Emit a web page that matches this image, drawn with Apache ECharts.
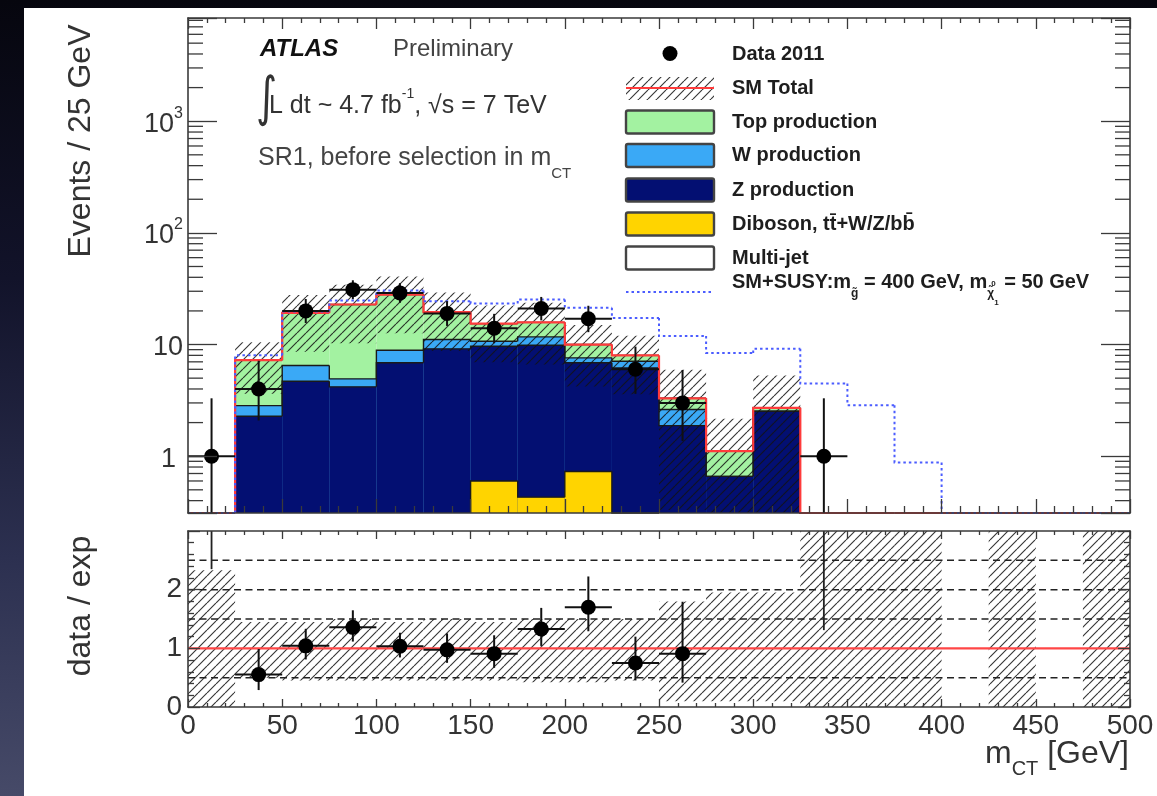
<!DOCTYPE html>
<html>
<head>
<meta charset="utf-8">
<title>m_CT distribution, SR1</title>
<script src="https://cdn.jsdelivr.net/npm/echarts@6.0.0/dist/echarts.min.js"></script>
<style>
  html, body { margin:0; padding:0; width:1157px; height:796px; overflow:hidden;
    background: linear-gradient(to bottom, #06060e 0%, #12132a 35%, #2c3050 70%, #464a68 100%); }
  #panel { position:absolute; left:24px; top:8px; width:1133px; height:788px; background:#fff; }
  #chart { position:absolute; left:0; top:0; width:1157px; height:796px; }
</style>
</head>
<body>
<div id="panel"></div>
<div id="chart"></div>
<script>
const FONT = '"Liberation Sans", Arial, Helvetica, sans-serif';

// Binning: 20 bins of 25 GeV in m_CT
const binLow = [0, 25, 50, 75, 100, 125, 150, 175, 200, 225, 250, 275, 300, 325, 350, 375, 400, 425, 450, 475];
const BIN_WIDTH = 25;

// Expected events per bin, per background (stacked bottom to top)
const multiJet      = [0, 0, 0, 0, 0, 0, 0, 0, 0, 0, 0, 0, 0, 0, 0, 0, 0, 0, 0, 0];
const diboson       = [0, 0, 0, 0, 0, 0, 0.60, 0.43, 0.73, 0, 0, 0, 0, 0, 0, 0, 0, 0, 0, 0];
const zProduction   = [0, 2.28, 4.69, 4.18, 6.86, 9.15, 9.06, 9.43, 6.13, 6.18, 1.88, 0.66, 2.53, 0, 0, 0, 0, 0, 0, 0];
const wProduction   = [0, 0.56, 1.80, 0.75, 2.04, 1.95, 1.04, 1.84, 0.74, 0.91, 0.74, 0, 0, 0, 0, 0, 0, 0, 0, 0];
const topProduction = [0, 4.40, 12.7, 17.9, 19.1, 8.40, 4.70, 4.10, 2.40, 0.90, 0.68, 0.45, 0.18, 0, 0, 0, 0, 0, 0, 0];

// SM + SUSY signal (m_gluino = 400 GeV, m_neutralino = 50 GeV)
const smPlusSusy = [0, 8.0, 19.8, 24.8, 30.5, 24.4, 23.3, 25.3, 21.3, 17.3, 11.9, 8.4, 9.15, 4.48, 2.86, 0.88, 0, 0, 0, 0];

// Data 2011 with Poisson uncertainties
const dataEvents  = [1, 4, 20, 31, 29, 19, 14, 21, 17, 6, 3, 0, 0, 1, 0, 0, 0, 0, 0, 0];
const dataErrUp   = [2.30, 3.16, 5.58, 6.63, 6.44, 5.47, 4.83, 5.69, 5.25, 3.58, 2.92, 0, 0, 2.30, 0, 0, 0, 0, 0, 0];
const dataErrDown = [0.83, 1.91, 4.44, 5.54, 5.35, 4.32, 3.71, 4.55, 4.09, 2.38, 1.63, 0, 0, 0.83, 0, 0, 0, 0, 0, 0];

// Uncertainty band relative to the SM total (null: no band)
const bandLow  = [0, 0.50, 0.45, 0.45, 0.45, 0.45, 0.45, 0.42, 0.42, 0.45, 0.10, 0.10, 0.10, 0, 0, 0, null, 0, null, 0];
const bandHigh = [2.33, 1.45, 1.45, 1.50, 1.45, 1.50, 1.45, 1.50, 1.50, 1.50, 1.80, 1.95, 1.95, 3, 3, 3, null, 3, null, 3];

// Ratio-panel error bars of bins without expectation: [bin, lower end]
const ratioOffscale = [[0, 2.35], [13, 1.31]];

// Dashed reference levels in the ratio panel
const ratioGuides = [0.5, 1.5, 2.0, 2.5];

// Tick labels
const logTickLabels = { 0: '{one|1}', 1: '{ten|10}', 2: '{ten|10}{sup|2}', 3: '{ten|10}{sup|3}' };
const ratioTickLabels = { 0: '0', 1: '1', 2: '2' };

const Y_MIN = 0.31, Y_MAX = 8400;
const clampY = v => Math.min(Y_MAX, Math.max(Y_MIN, v || 0));
const clampR = v => Math.min(3, Math.max(0, v));
const INK = '#333';
const FRAME = '#3a3a3a';

function makeHatchPattern(step, color, width) {
  const c = document.createElement('canvas');
  c.width = step; c.height = step;
  const g = c.getContext('2d');
  g.strokeStyle = color; g.lineWidth = width;
  g.beginPath();
  g.moveTo(0, step); g.lineTo(step, 0);
  g.moveTo(-step, step); g.lineTo(0, 0);
  g.moveTo(step, step); g.lineTo(2 * step, 0);
  g.stroke();
  return { image: c, repeat: 'repeat' };
}
const hatch = makeHatchPattern(9, 'rgba(20,20,20,0.85)', 1.15);

// Stack layers, bottom first
const stackLayers = [
  { name: 'Multi-jet', values: multiJet, color: '#ffffff' },
  { name: 'Diboson, tt\u0304+W/Z/bb\u0304', values: diboson, color: '#ffd400' },
  { name: 'Z production', values: zProduction, color: '#030f72' },
  { name: 'W production', values: wProduction, color: '#3aa9f6' },
  { name: 'Top production', values: topProduction, color: '#a3f2a1' }
];
let running = binLow.map(() => 0);
stackLayers.forEach(l => { running = running.map((s, i) => s + l.values[i]); l.cumulative = running.slice(); });
const smTotal = running;

// Filled / outlined step histogram in the upper panel
function stepSeries(name, values, o) {
  return {
    type: 'custom', name, xAxisIndex: 0, yAxisIndex: 0, z: o.z, silent: true,
    data: binLow.map((x, i) => [x + BIN_WIDTH / 2, clampY(values[i])]),
    renderItem(params, api) {
      const i = params.dataIndex;
      const x0 = binLow[i], x1 = x0 + BIN_WIDTH;
      const v = values[i], prev = i > 0 ? values[i - 1] : 0;
      const children = [];
      const tl = api.coord([x0, clampY(v)]), tr = api.coord([x1, clampY(v)]);
      if (o.fill && v > Y_MIN) {
        const b = api.coord([x0, Y_MIN]);
        children.push({ type: 'rect', shape: { x: tl[0], y: tl[1], width: tr[0] - tl[0], height: b[1] - tl[1] },
          style: { fill: o.fill } });
      }
      if (o.stroke && (o.drawZero || v > 0 || prev > 0)) {
        const pts = [api.coord([x0, clampY(prev)]), tl, tr];
        if (i === values.length - 1) pts.push(api.coord([x1, Y_MIN]));
        children.push({ type: 'polyline', shape: { points: pts },
          style: { stroke: o.stroke, lineWidth: o.lineWidth, lineDash: o.lineDash || null, fill: null } });
      }
      return { type: 'group', children };
    }
  };
}

const series = [];
stackLayers.slice().reverse().forEach(l => {
  series.push(stepSeries(l.name, l.cumulative, { fill: l.color, stroke: '#1a1a1a', lineWidth: 1.4, z: 2 }));
});

// Uncertainty band on the SM total
series.push({
  type: 'custom', name: 'SM uncertainty', xAxisIndex: 0, yAxisIndex: 0, z: 3, silent: true,
  data: binLow.map((x, i) => [x + BIN_WIDTH / 2, clampY(smTotal[i])]),
  renderItem(params, api) {
    const i = params.dataIndex;
    if (!(smTotal[i] > 0) || bandHigh[i] == null) return { type: 'group', children: [] };
    const a = api.coord([binLow[i], clampY(smTotal[i] * bandHigh[i])]);
    const b = api.coord([binLow[i] + BIN_WIDTH, clampY(smTotal[i] * bandLow[i])]);
    return { type: 'rect', shape: { x: a[0], y: a[1], width: b[0] - a[0], height: b[1] - a[1] }, style: { fill: hatch } };
  }
});

series.push(stepSeries('SM Total', smTotal, { stroke: '#ff3b3b', lineWidth: 2.2, drawZero: true, z: 4 }));
series.push(stepSeries('SM+SUSY', smPlusSusy, { stroke: '#4b5cff', lineWidth: 2, lineDash: [2.5, 3], drawZero: true, z: 5 }));

// Data points with error bars in the upper panel
series.push({
  type: 'custom', name: 'Data 2011', xAxisIndex: 0, yAxisIndex: 0, z: 6, silent: true,
  data: binLow.map((x, i) => [x + BIN_WIDTH / 2, clampY(dataEvents[i])]),
  renderItem(params, api) {
    const i = params.dataIndex, n = dataEvents[i];
    if (!(n > 0)) return { type: 'group', children: [] };
    const xc = binLow[i] + BIN_WIDTH / 2;
    const c = api.coord([xc, n]);
    const top = api.coord([xc, clampY(n + dataErrUp[i])]);
    const bot = api.coord([xc, clampY(n - dataErrDown[i])]);
    const l = api.coord([binLow[i], n]), r = api.coord([binLow[i] + BIN_WIDTH, n]);
    const st = { stroke: '#111', lineWidth: 2 };
    return { type: 'group', children: [
      { type: 'line', shape: { x1: top[0], y1: top[1], x2: bot[0], y2: bot[1] }, style: st },
      { type: 'line', shape: { x1: l[0], y1: l[1], x2: r[0], y2: r[1] }, style: st },
      { type: 'circle', shape: { cx: c[0], cy: c[1], r: 7.5 }, style: { fill: '#000' } }
    ] };
  }
});

// Minor ticks of the logarithmic axis (left and right frame edges)
const logMinorTicks = [];
for (let e = -1; e <= 3; e++) for (let k = 2; k <= 9; k++) {
  const v = k * Math.pow(10, e);
  if (v > Y_MIN && v < Y_MAX) logMinorTicks.push(v);
}
series.push({
  type: 'custom', name: 'log minor ticks', xAxisIndex: 0, yAxisIndex: 0, z: 10, silent: true,
  data: logMinorTicks.map(v => [0, v]),
  renderItem(params, api) {
    const v = logMinorTicks[params.dataIndex];
    const l = api.coord([0, v]), r = api.coord([500, v]);
    const st = { stroke: FRAME, lineWidth: 1.3 };
    return { type: 'group', children: [
      { type: 'line', shape: { x1: l[0], y1: l[1], x2: l[0] + 15, y2: l[1] }, style: st },
      { type: 'line', shape: { x1: r[0] - 15, y1: r[1], x2: r[0], y2: r[1] }, style: st }
    ] };
  }
});

// ---- Ratio panel ----
series.push({
  type: 'custom', name: 'ratio band', xAxisIndex: 2, yAxisIndex: 2, z: 2, silent: true,
  data: binLow.map((x, i) => [x + BIN_WIDTH / 2, 1]),
  renderItem(params, api) {
    const i = params.dataIndex;
    if (bandHigh[i] == null) return { type: 'group', children: [] };
    const a = api.coord([binLow[i], clampR(bandHigh[i])]);
    const b = api.coord([binLow[i] + BIN_WIDTH, clampR(bandLow[i])]);
    return { type: 'rect', shape: { x: a[0], y: a[1], width: b[0] - a[0], height: b[1] - a[1] }, style: { fill: hatch } };
  }
});
series.push({
  type: 'custom', name: 'ratio guides', xAxisIndex: 2, yAxisIndex: 2, z: 3, silent: true,
  data: ratioGuides.map(v => [0, v]),
  renderItem(params, api) {
    const v = ratioGuides[params.dataIndex];
    const a = api.coord([0, v]), b = api.coord([500, v]);
    return { type: 'line', shape: { x1: a[0], y1: a[1], x2: b[0], y2: b[1] },
      style: { stroke: '#222', lineWidth: 1.5, lineDash: [7, 4.5] } };
  }
});
series.push({
  type: 'custom', name: 'unity', xAxisIndex: 2, yAxisIndex: 2, z: 3, silent: true,
  data: [[0, 1]],
  renderItem(params, api) {
    const a = api.coord([0, 1]), b = api.coord([500, 1]);
    return { type: 'line', shape: { x1: a[0], y1: a[1], x2: b[0], y2: b[1] },
      style: { stroke: '#ff4646', lineWidth: 2.4 } };
  }
});
series.push({
  type: 'custom', name: 'ratio offscale', xAxisIndex: 2, yAxisIndex: 2, z: 4, silent: true,
  data: ratioOffscale.map(d => [binLow[d[0]] + BIN_WIDTH / 2, d[1]]),
  renderItem(params, api) {
    const d = ratioOffscale[params.dataIndex];
    const xc = binLow[d[0]] + BIN_WIDTH / 2;
    const a = api.coord([xc, 3]), b = api.coord([xc, d[1]]);
    return { type: 'line', shape: { x1: a[0], y1: a[1], x2: b[0], y2: b[1] }, style: { stroke: '#222', lineWidth: 1.8 } };
  }
});
series.push({
  type: 'custom', name: 'data / exp', xAxisIndex: 2, yAxisIndex: 2, z: 6, silent: true,
  data: binLow.map((x, i) => [x + BIN_WIDTH / 2, smTotal[i] > 0 ? clampR(dataEvents[i] / smTotal[i]) : 0]),
  renderItem(params, api) {
    const i = params.dataIndex, n = dataEvents[i], s = smTotal[i];
    if (!(n > 0) || !(s > 0)) return { type: 'group', children: [] };
    const ratio = n / s, xc = binLow[i] + BIN_WIDTH / 2;
    const c = api.coord([xc, ratio]);
    const top = api.coord([xc, clampR(ratio + dataErrUp[i] / s)]);
    const bot = api.coord([xc, clampR(ratio - dataErrDown[i] / s)]);
    const l = api.coord([binLow[i], ratio]), r = api.coord([binLow[i] + BIN_WIDTH, ratio]);
    const st = { stroke: '#111', lineWidth: 2 };
    return { type: 'group', children: [
      { type: 'line', shape: { x1: top[0], y1: top[1], x2: bot[0], y2: bot[1] }, style: st },
      { type: 'line', shape: { x1: l[0], y1: l[1], x2: r[0], y2: r[1] }, style: st },
      { type: 'circle', shape: { cx: c[0], cy: c[1], r: 7.5 }, style: { fill: '#000' } }
    ] };
  }
});

// ---- Axes ----
function frame(extra) {
  return Object.assign({
    type: 'value', z: 10,
    axisLine: { show: true, onZero: false, lineStyle: { color: FRAME, width: 1.6 } },
    splitLine: { show: false }
  }, extra);
}
const tickStyle = { color: FRAME, width: 1.3 };
const xAxes = [
  frame({ gridIndex: 0, min: 0, max: 500, interval: 50, position: 'bottom', axisLabel: { show: false },
    axisTick: { show: true, inside: true, length: 14, lineStyle: tickStyle },
    minorTick: { show: true, splitNumber: 5, length: 7, lineStyle: tickStyle } }),
  frame({ gridIndex: 0, min: 0, max: 500, interval: 50, position: 'top', axisLabel: { show: false },
    axisTick: { show: true, inside: true, length: 11, lineStyle: tickStyle },
    minorTick: { show: true, splitNumber: 5, length: 5, lineStyle: tickStyle } }),
  frame({ gridIndex: 1, min: 0, max: 500, interval: 50, position: 'bottom',
    axisLabel: { show: true, interval: 0, fontSize: 28, color: INK, fontFamily: FONT, margin: 5 },
    axisTick: { show: true, inside: true, length: 8, lineStyle: tickStyle },
    minorTick: { show: true, splitNumber: 5, length: 4, lineStyle: tickStyle } }),
  frame({ gridIndex: 1, min: 0, max: 500, interval: 50, position: 'top', axisLabel: { show: false },
    axisTick: { show: true, inside: true, length: 8, lineStyle: tickStyle },
    minorTick: { show: true, splitNumber: 5, length: 4, lineStyle: tickStyle } })
];
const labelRich = {
  one: { fontSize: 27, fontFamily: FONT, color: INK, lineHeight: 32, padding: [6, 7, 0, 0] },
  ten: { fontSize: 27, fontFamily: FONT, color: INK, lineHeight: 32, padding: [6, 0, 0, 0] },
  sup: { fontSize: 16, fontFamily: FONT, color: INK, lineHeight: 16, verticalAlign: 'top' }
};
const yAxes = [
  frame({ gridIndex: 0, type: 'log', logBase: 10, min: Y_MIN, max: Y_MAX, position: 'left',
    axisTick: { show: true, inside: true, length: 29, lineStyle: tickStyle },
    axisLabel: { show: true, margin: 5, color: INK, fontFamily: FONT, fontSize: 27, rich: labelRich,
      formatter: v => { const e = Math.log10(v), r = Math.round(e); return Math.abs(e - r) < 1e-6 ? (logTickLabels[r] || '') : ''; } } }),
  frame({ gridIndex: 0, type: 'log', logBase: 10, min: Y_MIN, max: Y_MAX, position: 'right',
    axisTick: { show: true, inside: true, length: 29, lineStyle: tickStyle }, axisLabel: { show: false } }),
  frame({ gridIndex: 1, min: 0, max: 3, interval: 1, position: 'left',
    axisTick: { show: true, inside: true, length: 12, lineStyle: tickStyle },
    minorTick: { show: true, splitNumber: 5, length: 6, lineStyle: tickStyle },
    axisLabel: { show: true, margin: 6, fontSize: 28, color: INK, fontFamily: FONT,
      formatter: v => ratioTickLabels[v] || '' } }),
  frame({ gridIndex: 1, min: 0, max: 3, interval: 1, position: 'right',
    axisTick: { show: true, inside: true, length: 12, lineStyle: tickStyle },
    minorTick: { show: true, splitNumber: 5, length: 6, lineStyle: tickStyle }, axisLabel: { show: false } })
];

// ---- Text helpers ----
const measureCtx = document.createElement('canvas').getContext('2d');
function fontString(p) { return (p.italic ? 'italic ' : '') + (p.bold ? 'bold ' : '') + p.size + 'px ' + (p.family || FONT); }
function textWidth(t, p) { measureCtx.font = fontString(p); return measureCtx.measureText(t).width; }
function textRun(x, baseline, parts, align) {
  const widths = parts.map(p => (p.advance === 0 ? 0 : textWidth(p.t, p)));
  const total = widths.reduce((a, b) => a + b, 0);
  let cx = align === 'right' ? x - total : x;
  return parts.map((p, k) => {
    const el = { type: 'text', silent: true, x: cx + (p.dx || 0), y: baseline - (p.rise || 0) - 0.35 * p.size,
      style: { text: p.t, fontSize: p.size, fontFamily: p.family || FONT, fontWeight: p.bold ? 'bold' : 'normal',
        fontStyle: p.italic ? 'italic' : 'normal', fill: p.color || INK,
        align: 'left', verticalAlign: 'middle', textAlign: 'left', textVerticalAlign: 'middle' } };
    cx += widths[k];
    return el;
  });
}
function rotatedTitle(text, x, y) {
  return { type: 'text', silent: true, x, y, rotation: Math.PI / 2,
    style: { text, fontSize: 32, fontFamily: FONT, fill: INK, align: 'center', verticalAlign: 'middle',
      textAlign: 'center', textVerticalAlign: 'middle' } };
}

const graphics = [];
// Axis titles
graphics.push(rotatedTitle('Events / 25 GeV', 81, 141));
graphics.push(rotatedTitle('data / exp', 81, 606));
graphics.push(...textRun(1129, 765, [
  { t: 'm', size: 32 }, { t: 'CT', size: 20, rise: -11 }, { t: ' [GeV]', size: 32 }
], 'right'));

// Labels in the upper panel
graphics.push(...textRun(260, 58, [{ t: 'ATLAS', size: 24, bold: true, italic: true, color: '#111' }]));
graphics.push(...textRun(393, 58, [{ t: 'Preliminary', size: 24, color: '#444' }]));
graphics.push({ type: 'text', silent: true, x: 256, y: 101, scaleX: 0.75,
  style: { text: '\u222B', fontSize: 54, fontFamily: '"DejaVu Sans", sans-serif', fill: INK,
    align: 'left', verticalAlign: 'middle', textAlign: 'left', textVerticalAlign: 'middle' } });
graphics.push(...textRun(269, 115, [
  { t: 'L dt ~ 4.7 fb', size: 25 }, { t: '-1', size: 14, rise: 16 }, { t: ', \u221As = 7 TeV', size: 25 }
]));
graphics.push(...textRun(258, 167, [
  { t: 'SR1, before selection in m', size: 25, color: '#444' }, { t: 'CT', size: 15, rise: -12, color: '#444' }
]));

// Legend
const LX = 626, LW = 88, TX = 732, LCOL = '#1e1e1e';
graphics.push({ type: 'circle', silent: true, shape: { cx: 670, cy: 53.5, r: 7.5 }, style: { fill: '#000' } });
graphics.push(...textRun(TX, 61, [{ t: 'Data 2011', size: 20, bold: true, color: LCOL }]));
graphics.push({ type: 'rect', silent: true, shape: { x: LX, y: 77, width: LW, height: 23 }, style: { fill: hatch } });
graphics.push({ type: 'line', silent: true, shape: { x1: LX, y1: 88, x2: LX + LW, y2: 88 }, style: { stroke: '#ff3b3b', lineWidth: 2.2 } });
graphics.push(...textRun(TX, 95, [{ t: 'SM Total', size: 20, bold: true, color: LCOL }]));
const legendRows = [122, 155.5, 190, 224, 258];
stackLayers.slice().reverse().forEach((l, k) => {
  const cy = legendRows[k];
  graphics.push({ type: 'rect', silent: true, shape: { x: LX, y: cy - 11.5, width: LW, height: 23, r: 2 },
    style: { fill: l.color, stroke: '#444', lineWidth: 2.4 } });
  graphics.push(...textRun(TX, cy + 7, [{ t: l.name, size: 20, bold: true, color: LCOL }]));
});
graphics.push({ type: 'line', silent: true, shape: { x1: LX, y1: 292, x2: LX + LW, y2: 292 },
  style: { stroke: '#4b5cff', lineWidth: 2, lineDash: [2.5, 3] } });
graphics.push(...textRun(TX, 289, [
  { t: 'SM+SUSY:m', size: 20, bold: true, color: LCOL },
  { t: 'g\u0303', size: 12, bold: true, rise: -9, color: LCOL },
  { t: ' = 400 GeV, m', size: 20, bold: true, color: LCOL },
  { t: '\u03C7\u0303', size: 12, bold: true, rise: -9, color: LCOL },
  { t: '0', size: 8, bold: true, rise: 2, dx: -3, advance: 0, color: LCOL },
  { t: '1', size: 8, bold: true, rise: -17, color: LCOL },
  { t: ' = 50 GeV', size: 20, bold: true, color: LCOL }
]));

const chart = echarts.init(document.getElementById('chart'), null, { renderer: 'canvas' });
chart.setOption({
  animation: false,
  backgroundColor: 'transparent',
  textStyle: { fontFamily: FONT },
  grid: [
    { left: 188, top: 18, width: 942, height: 495, outerBoundsMode: 'none' },
    { left: 188, top: 531, width: 942, height: 176, outerBoundsMode: 'none' }
  ],
  xAxis: xAxes,
  yAxis: yAxes,
  series,
  graphic: { elements: graphics }
});
</script>
</body>
</html>
